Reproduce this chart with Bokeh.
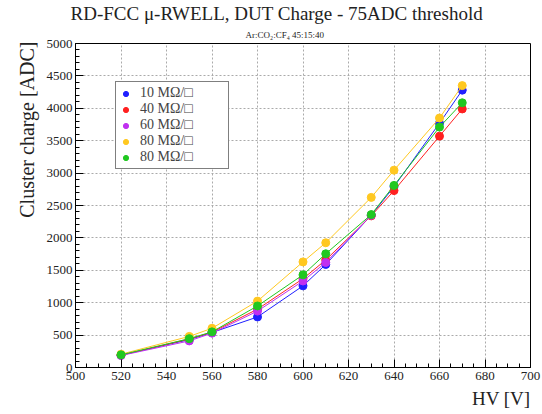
from bokeh.plotting import figure
from bokeh.models import Legend, LegendItem, Range1d, FixedTicker, Title
from bokeh.embed import file_html
from bokeh.resources import INLINE

hv = [520, 550, 560, 580, 600, 610, 630, 640, 660, 670]
hv_purple = [520, 550, 560, 580, 600, 610, 630]
q_blue = [190, 430, 540, 780, 1260, 1590, 2350, 2790, 3770, 4280]
q_red = [190, 440, 545, 900, 1370, 1660, 2340, 2730, 3570, 3990]
q_purple = [185, 410, 530, 870, 1335, 1620, 2350]
q_yellow = [205, 480, 605, 1025, 1630, 1925, 2625, 3045, 3850, 4350]
q_green = [195, 445, 550, 950, 1430, 1755, 2360, 2810, 3710, 4085]
labels = ["10 MΩ/□", "40 MΩ/□", "60 MΩ/□", "80 MΩ/□", "80 MΩ/□"]
x_ticks = list(range(500, 701, 20))
y_ticks = list(range(0, 5001, 500))

FONT = "Liberation Serif"
TXT = "#222222"

p = figure(width=542, height=414, output_backend="svg", toolbar_location=None,
           x_range=Range1d(500, 700), y_range=Range1d(0, 5000),
           min_border_left=75, min_border_right=12, min_border_top=43, min_border_bottom=47)
p.outline_line_color = "black"
p.outline_line_width = 1

p.xaxis[0].ticker = FixedTicker(ticks=x_ticks, minor_ticks=list(range(500, 701, 5)))
p.yaxis[0].ticker = FixedTicker(ticks=y_ticks, minor_ticks=list(range(0, 5001, 100)))

for ax in (p.xaxis[0], p.yaxis[0]):
    ax.major_tick_in = 8
    ax.major_tick_out = 0
    ax.minor_tick_in = 4
    ax.minor_tick_out = 0
    ax.axis_line_color = "black"
    ax.major_label_text_font = FONT
    ax.major_label_text_font_size = "13px"
    ax.major_label_text_color = TXT
p.xaxis.major_label_standoff = 4
p.yaxis.major_label_standoff = 3

p.xgrid.grid_line_color = "#aaaaaa"
p.ygrid.grid_line_color = "#aaaaaa"
p.xgrid.grid_line_dash = "2 2"
p.ygrid.grid_line_dash = "2 2"

series = [
    (hv, q_blue, "#1f1fff"),
    (hv, q_red, "#ff2020"),
    (hv_purple, q_purple, "#c030f0"),
    (hv, q_yellow, "#ffc820"),
    (hv, q_green, "#20c820"),
]
items = []
for (xs, ys, col), lab in zip(series, labels):
    p.line(xs, ys, line_color=col, line_width=1)
    r = p.scatter(xs, ys, size=8, fill_color=col, line_color=col)
    items.append(LegendItem(label=lab, renderers=[r]))

legend = Legend(items=items, location=(40, 198), label_text_font=FONT,
                label_text_font_size="14px", label_height=13, glyph_height=13,
                glyph_width=13, label_standoff=8, spacing=0, padding=3,
                label_width=85, border_line_color="black", border_line_width=1,
                background_fill_alpha=1.0, margin=0)
p.add_layout(legend, "center")

main_title = Title(text="RD-FCC μ-RWELL, DUT Charge - 75ADC threshold", align="left",
                   text_font=FONT, text_font_size="19px", text_font_style="normal",
                   text_color=TXT, standoff=0, offset=-5, text_line_height=0.75)
sub_title = Title(text="Ar:CO₂:CF₄ 45:15:40", align="left",
                  text_font=FONT, text_font_size="9px", text_font_style="normal",
                  text_color=TXT, standoff=8, offset=170)
p.title = None
p.above = [sub_title, main_title]

ylab = Title(text="Cluster charge [ADC]", align="right",
             text_font=FONT, text_font_size="20px", text_font_style="normal",
             text_color=TXT, standoff=11, offset=-2)
p.add_layout(ylab, "left")
xlab = Title(text="HV [V]", align="right",
             text_font=FONT, text_font_size="19px", text_font_style="normal",
             text_color=TXT, standoff=6)
p.add_layout(xlab, "below")

open("out.html", "w").write(file_html(p, INLINE))
